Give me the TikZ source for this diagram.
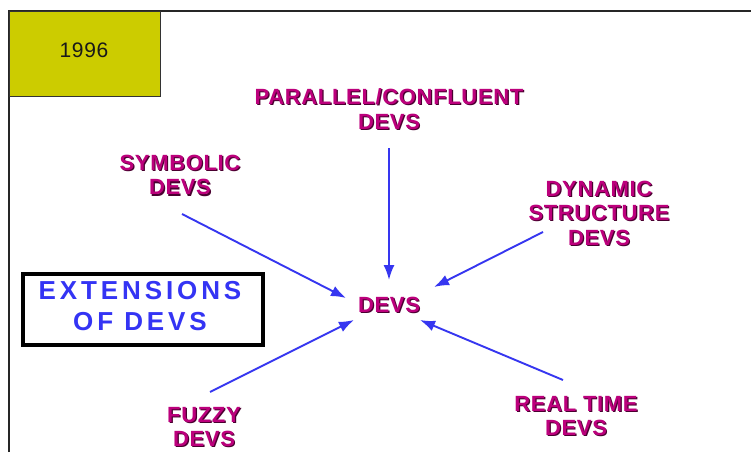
\documentclass[tikz,border=0pt]{standalone}
\usepackage{fontspec}
\setmainfont{Liberation Sans}
\newfontfamily\labelfont[LetterSpace=3]{Liberation Sans Bold}
\newfontfamily\titlefont[LetterSpace=15]{Liberation Sans Bold}
\newfontfamily\yearfont[LetterSpace=3]{Liberation Sans}
\usetikzlibrary{arrows.meta,calc}

\definecolor{devsmagenta}{HTML}{BC007C}
\definecolor{devsshadow}{HTML}{4A0030}
\definecolor{arrowblue}{HTML}{3636F0}
\definecolor{titleblue}{HTML}{3434F4}
\definecolor{yearyellow}{HTML}{CCCC00}

\tikzset{
  lbl/.style={text=devsmagenta, font=\labelfont\fontsize{22}{24.5}\selectfont,
    align=center, inner sep=0pt},
  lblshadow/.style={lbl, text=devsshadow},
  arr/.style={draw=arrowblue, line width=1.9pt,
    -{Latex[length=15pt,width=11pt]}},
}

% label with a dark drop shadow behind the magenta text
\newcommand\devslabel[4]{%
  \node[lblshadow] at (#2+1.2,#3+1.2) {#4};
  \node[lbl] (#1) at (#2,#3) {#4};}

\begin{document}
\begin{tikzpicture}[x=1pt,y=-1pt]
  \useasboundingbox (0,0) rectangle (751,452);
  \fill[white] (0,0) rectangle (751,452);

  % slide frame: top and left rules
  \draw[line width=2pt, black!85] (9,452) -- (9,11) -- (751,11);

  % year tab
  \node[draw=black!80, line width=0.8pt, fill=yearyellow, minimum width=151pt,
        minimum height=85pt, inner sep=0pt, anchor=north west] (yearbox) at (9,11) {};
  \node[font=\yearfont\fontsize{21}{24}\selectfont, text=black!90] (year) at (84,50.5) {1996};

  % title box
  \node[draw=black, line width=4pt, minimum width=240pt, minimum height=71pt,
        inner sep=0pt] (extbox) at (143,309.5) {};
  \node[text=titleblue, font=\titlefont\fontsize{26}{31}\selectfont, align=center,
        inner sep=0pt] (ext) at (140,306.5) {EXTENSIONS\\OF DEVS};

  % labels
  \devslabel{par}{389}{109}{PARALLEL/CONFLUENT\\DEVS}
  \devslabel{sym}{180}{175}{SYMBOLIC\\DEVS}
  \devslabel{dyn}{599}{213}{DYNAMIC\\STRUCTURE\\DEVS}
  \devslabel{devs}{389}{305}{DEVS}
  \devslabel{fuzzy}{204}{427}{FUZZY\\DEVS}
  \devslabel{real}{576}{416}{REAL TIME\\DEVS}

  % arrows into the core DEVS
  \draw[arr] ($(par)+(0,39)$) -- ($(devs)+(0,-25)$);
  \draw[arr] ($(sym)+(2,39)$) -- ($(devs)+(-43,-7)$);
  \draw[arr] ($(dyn)+(-56,19)$) -- ($(devs)+(45,-18)$);
  \draw[arr] ($(fuzzy)+(6,-35)$) -- ($(devs)+(-35,15)$);
  \draw[arr] ($(real)+(-13,-36)$) -- ($(devs)+(31,15)$);
\end{tikzpicture}
\end{document}
